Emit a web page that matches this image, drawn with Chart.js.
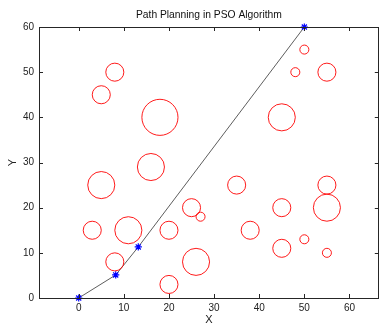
<!DOCTYPE html>
<html><head><meta charset="utf-8">
<script src="https://cdn.jsdelivr.net/npm/chart.js@4/dist/chart.umd.min.js"></script>
<style>html,body{margin:0;padding:0;background:#fff}#wrap{width:384px;height:325px}</style>
</head><body><div id="wrap"><canvas id="c" width="384" height="325"></canvas></div>
<script>
const titleText = "Path Planning in PSO Algorithm";
const circleX = [8,5,50,48,55,18,45,16,5,35,55,25,27,45,55,3,11,20,38,50,45,55,8,26,20];
const circleY = [50,45,55,50,50,40,40,29,25,25,25,20,18,20,20,15,15,15,15,13,11,10,8,8,3];
const circleR = [2,2,1,1,2,4,3,3,3,2,2,2,1,2,3,2,3,2,2,1,2,1,2,3,2];
const pathX = [0,8.2,13.2,50];
const pathY = [0,5.1,11.3,60];
const xTicks = [0,10,20,30,40,50,60];
const yTicks = [0,10,20,30,40,50,60];
const xRange = [-8.8, 66.5];
const yRange = [0, 60];

const FONT = "'Liberation Sans', Arial, Helvetica, sans-serif";

function rPx(ctx) {
  const s = ctx.chart.scales.x;
  const r = ctx.raw && ctx.raw.r ? ctx.raw.r : 0;
  return Math.abs(s.getPixelForValue(r) - s.getPixelForValue(0));
}

const framePlugin = {
  id: 'frame',
  afterDraw(chart) {
    const {ctx, chartArea: a, scales} = chart;
    ctx.save();
    ctx.strokeStyle = '#262626';
    ctx.lineWidth = 1;
    ctx.strokeRect(Math.round(a.left)+0.5, Math.round(a.top)+0.5, Math.round(a.right-a.left)-1, Math.round(a.bottom-a.top));
    const tl = 4;
    ctx.beginPath();
    scales.x.ticks.forEach(t => {
      const px = Math.round(scales.x.getPixelForValue(t.value)) + 0.5;
      ctx.moveTo(px, a.bottom); ctx.lineTo(px, a.bottom - tl);
      ctx.moveTo(px, a.top); ctx.lineTo(px, a.top + tl);
    });
    scales.y.ticks.forEach(t => {
      const py = Math.round(scales.y.getPixelForValue(t.value)) + 0.5;
      ctx.moveTo(a.left, py); ctx.lineTo(a.left + tl, py);
      ctx.moveTo(a.right, py); ctx.lineTo(a.right - tl, py);
    });
    ctx.stroke();
    ctx.fillStyle = '#111';
    ctx.font = '10.3px ' + FONT;
    ctx.textAlign = 'center';
    ctx.textBaseline = 'middle';
    ctx.fillText(titleText, (a.left + a.right) / 2, 15);
    ctx.restore();
  }
};

new Chart(document.getElementById('c'), {
  type: 'scatter',
  data: {
    datasets: [
      {
        label: 'obstacles',
        data: circleX.map((x, i) => ({x: x, y: circleY[i], r: circleR[i]})),
        showLine: false,
        pointStyle: 'circle',
        pointRadius: rPx,
        pointHoverRadius: rPx,
        pointBorderColor: '#ff0000',
        pointBackgroundColor: 'rgba(0,0,0,0)',
        pointBorderWidth: 0.9,
        clip: false
      },
      {
        label: 'path',
        data: pathX.map((x, i) => ({x: x, y: pathY[i]})),
        showLine: true,
        borderColor: '#333333',
        borderWidth: 0.8,
        tension: 0,
        pointStyle: 'star',
        pointRadius: 3.6,
        pointBorderColor: '#0000ff',
        pointBackgroundColor: '#0000ff',
        pointBorderWidth: 1.2,
        clip: false
      }
    ]
  },
  options: {
    responsive: false,
    animation: false,
    events: [],
    layout: {padding: {top: 27, right: 3, left: 0, bottom: 0}},
    plugins: {legend: {display: false}, tooltip: {enabled: false}, title: {display: false}},
    scales: {
      x: {
        type: 'linear', min: xRange[0], max: xRange[1],
        afterBuildTicks: s => { s.ticks = xTicks.map(v => ({value: v})); },
        afterFit: s => { s.height = 27; },
        grid: {display: false, drawTicks: false},
        border: {display: false},
        ticks: {padding: 4, color: '#222', font: {family: FONT, size: 10}},
        title: {display: true, text: 'X', color: '#222', font: {family: FONT, size: 11, lineHeight: 1}, padding: {top: 0, bottom: 0}}
      },
      y: {
        type: 'linear', min: yRange[0], max: yRange[1],
        afterBuildTicks: s => { s.ticks = yTicks.map(v => ({value: v})); },
        afterFit: s => { s.width = 39; },
        grid: {display: false, drawTicks: false},
        border: {display: false},
        ticks: {padding: 5, color: '#222', font: {family: FONT, size: 10}},
        title: {display: true, text: 'Y', color: '#222', font: {family: FONT, size: 11, lineHeight: 1}, padding: {top: 7, bottom: 0}}
      }
    }
  },
  plugins: [framePlugin]
});
</script>
</body></html>
